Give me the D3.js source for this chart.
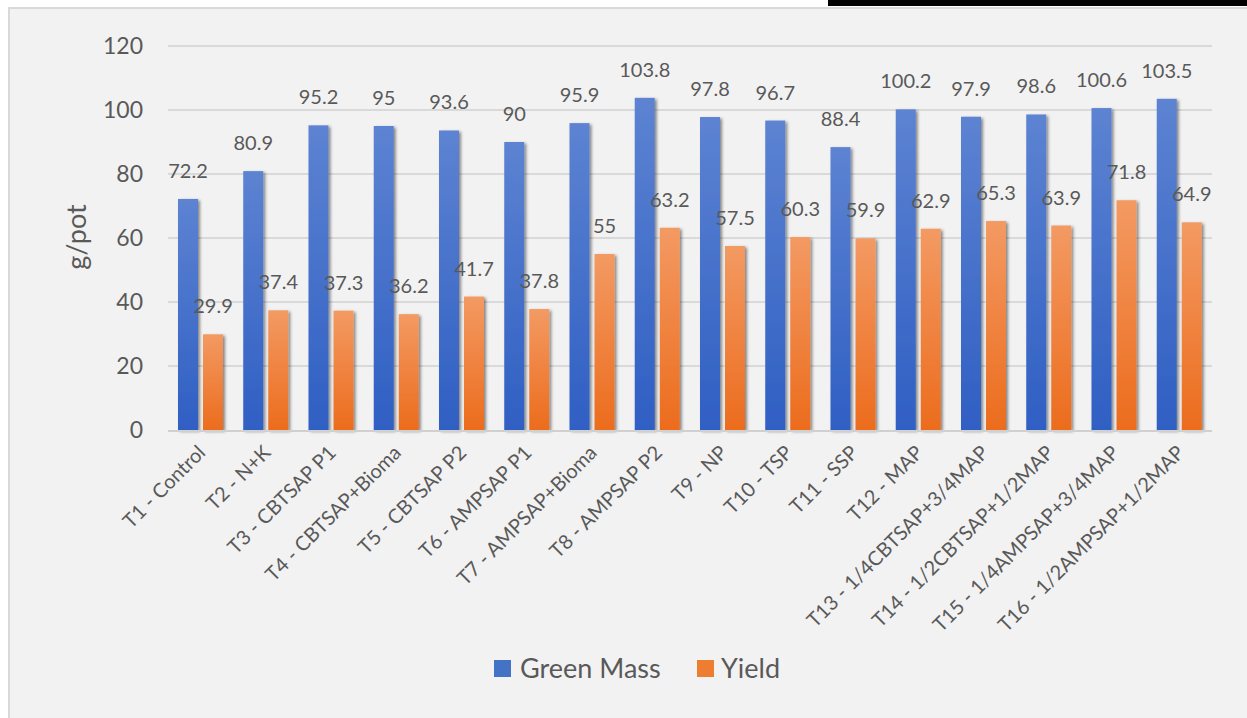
<!DOCTYPE html>
<html>
<head>
<meta charset="utf-8">
<script src="https://cdn.jsdelivr.net/npm/d3@7"></script>
<style>
  body { margin: 0; background: #ffffff; }
  svg { display: block; }
  text { font-family: Lato, "Open Sans", sans-serif; fill: #595959; }
</style>
</head>
<body>
<div id="chart"></div>
<script>
// ---------------- data
const treatments = ["T1 - Control", "T2 - N+K", "T3 - CBTSAP P1", "T4 - CBTSAP+Bioma", "T5 - CBTSAP P2",
    "T6 - AMPSAP P1", "T7 - AMPSAP+Bioma", "T8 - AMPSAP P2", "T9 - NP", "T10 - TSP", "T11 - SSP", "T12 - MAP",
    "T13 - 1/4CBTSAP+3/4MAP", "T14 - 1/2CBTSAP+1/2MAP", "T15 - 1/4AMPSAP+3/4MAP", "T16 - 1/2AMPSAP+1/2MAP"]
const greenMass = [72.2, 80.9, 95.2, 95, 93.6, 90, 95.9, 103.8, 97.8, 96.7, 88.4, 100.2, 97.9, 98.6, 100.6, 103.5]
const yieldVals = [29.9, 37.4, 37.3, 36.2, 41.7, 37.8, 55, 63.2, 57.5, 60.3, 59.9, 62.9, 65.3, 63.9, 71.8, 64.9]
const seriesNames = ["Green Mass", "Yield"]
const yTicks = [0, 20, 40, 60, 80, 100, 120]
const yTitle = "g/pot"

async function drawChart() {
    //*************************1. Dimensions
    const dimensions = {
        width: 1247,
        height: 718,
        margin: { top: 46, right: 35, bottom: 288, left: 168 }
    }
    dimensions.boundedWidth = dimensions.width - dimensions.margin.left - dimensions.margin.right
    dimensions.boundedHeight = dimensions.height - dimensions.margin.top - dimensions.margin.bottom

    //*************************2. Wrapper and bounds
    const wrapper = d3.select("#chart")
        .append("svg")
        .attr("width", dimensions.width)
        .attr("height", dimensions.height)

    const defs = wrapper.append("defs")
    const gradients = [
        { id: "gradBlue", top: "#5d83d2", bottom: "#2f5fc3" },
        { id: "gradOrange", top: "#f39a63", bottom: "#ec6c1d" }
    ]
    gradients.forEach(g => {
        const lg = defs.append("linearGradient")
            .attr("id", g.id)
            .attr("x1", 0).attr("y1", 0).attr("x2", 0).attr("y2", 1)
        lg.append("stop").attr("offset", "0%").attr("stop-color", g.top)
        lg.append("stop").attr("offset", "100%").attr("stop-color", g.bottom)
    })
    const shadow = defs.append("filter")
        .attr("id", "barShadow")
        .attr("x", "-30%").attr("y", "-10%").attr("width", "170%").attr("height", "130%")
    shadow.append("feDropShadow")
        .attr("dx", 2).attr("dy", 1.5).attr("stdDeviation", 1.8)
        .attr("flood-color", "#000").attr("flood-opacity", 0.45)

    // chart area background + frame
    wrapper.append("rect")
        .attr("x", 9).attr("y", 8)
        .attr("width", dimensions.width).attr("height", dimensions.height)
        .attr("fill", "#f2f2f2")
        .attr("stroke", "#d9d9d9")
        .attr("stroke-width", 2)

    wrapper.append("rect")
        .attr("x", 828).attr("y", 0)
        .attr("width", dimensions.width - 828).attr("height", 6)
        .attr("fill", "#000")

    const bounds = wrapper.append("g")
        .attr("transform", `translate(${dimensions.margin.left}, ${dimensions.margin.top})`)

    //*************************3. Scales
    const yScale = d3.scaleLinear()
        .domain([0, 120])
        .range([dimensions.boundedHeight, 0])

    const xScale = d3.scaleBand()
        .domain(treatments)
        .range([0, dimensions.boundedWidth])
        .padding(0)

    const subScale = d3.scaleBand()
        .domain(seriesNames)
        .range([10, xScale.bandwidth() - 10.25])
        .paddingInner(0.2)

    const fillScale = d3.scaleOrdinal()
        .domain(seriesNames)
        .range(["url(#gradBlue)", "url(#gradOrange)"])

    const legendColor = d3.scaleOrdinal()
        .domain(seriesNames)
        .range(["#4472c4", "#ed7d31"])

    //*************************4. Gridlines and axes
    bounds.append("g")
        .selectAll("line")
        .data(yTicks.filter(d => d > 0))
        .join("line")
        .attr("x1", 0)
        .attr("x2", dimensions.boundedWidth)
        .attr("y1", d => yScale(d))
        .attr("y2", d => yScale(d))
        .attr("stroke", "#d9d9d9")
        .attr("stroke-width", 2)

    const yAxisGenerator = d3.axisLeft()
        .scale(yScale)
        .tickValues(yTicks)
        .tickSize(0)
        .tickPadding(25)

    const yAxis = bounds.append("g").call(yAxisGenerator)
    yAxis.select(".domain").remove()
    yAxis.selectAll("text")
        .style("font-size", "23px")
        .style("fill", "#595959")
        .style("font-family", "Lato, sans-serif")

    bounds.append("text")
        .attr("transform", `translate(${86 - dimensions.margin.left}, ${237 - dimensions.margin.top}) rotate(-90)`)
        .attr("text-anchor", "middle")
        .style("font-size", "27px")
        .text(yTitle)

    //*************************5. Bars
    const rows = treatments.map((t, i) => ({
        treatment: t,
        values: [
            { series: seriesNames[0], value: greenMass[i] },
            { series: seriesNames[1], value: yieldVals[i] }
        ]
    }))

    const groups = bounds.selectAll(".group")
        .data(rows)
        .join("g")
        .attr("class", "group")
        .attr("transform", d => `translate(${xScale(d.treatment)}, 0)`)

    groups.selectAll("rect")
        .data(d => d.values)
        .join("rect")
        .attr("x", d => subScale(d.series))
        .attr("width", subScale.bandwidth())
        .attr("y", d => yScale(d.value))
        .attr("height", d => dimensions.boundedHeight - yScale(d.value))
        .attr("fill", d => fillScale(d.series))
        .attr("filter", "url(#barShadow)")

    // baseline
    bounds.append("line")
        .attr("x1", 0)
        .attr("x2", dimensions.boundedWidth)
        .attr("y1", dimensions.boundedHeight + 1)
        .attr("y2", dimensions.boundedHeight + 1)
        .attr("stroke", "#d0d0d0")
        .attr("stroke-width", 2)

    groups.selectAll(".label")
        .data(d => d.values)
        .join("text")
        .attr("class", "label")
        .attr("x", d => subScale(d.series) + subScale.bandwidth() / 2)
        .attr("y", d => yScale(d.value) - 21)
        .attr("text-anchor", "middle")
        .style("font-size", "20px")
        .text(d => d.value)

    //*************************6. X labels
    bounds.append("g")
        .selectAll("text")
        .data(treatments)
        .join("text")
        .attr("transform", d => `translate(${xScale(d) + xScale.bandwidth() / 2 + 6}, ${dimensions.boundedHeight + 24}) rotate(-45)`)
        .attr("text-anchor", "end")
        .style("font-size", "20px")
        .text(d => d)

    //*************************7. Legend
    const legendItems = [
        { name: seriesNames[0], x: 494, textX: 520 },
        { name: seriesNames[1], x: 697, textX: 721 }
    ]
    const legend = wrapper.append("g")
    legend.selectAll("rect")
        .data(legendItems)
        .join("rect")
        .attr("x", d => d.x)
        .attr("y", 660)
        .attr("width", 17)
        .attr("height", 17)
        .attr("fill", d => legendColor(d.name))
    legend.selectAll("text")
        .data(legendItems)
        .join("text")
        .attr("x", d => d.textX)
        .attr("y", 678)
        .style("font-size", "27px")
        .text(d => d.name)
}
drawChart()
</script>
</body>
</html>
